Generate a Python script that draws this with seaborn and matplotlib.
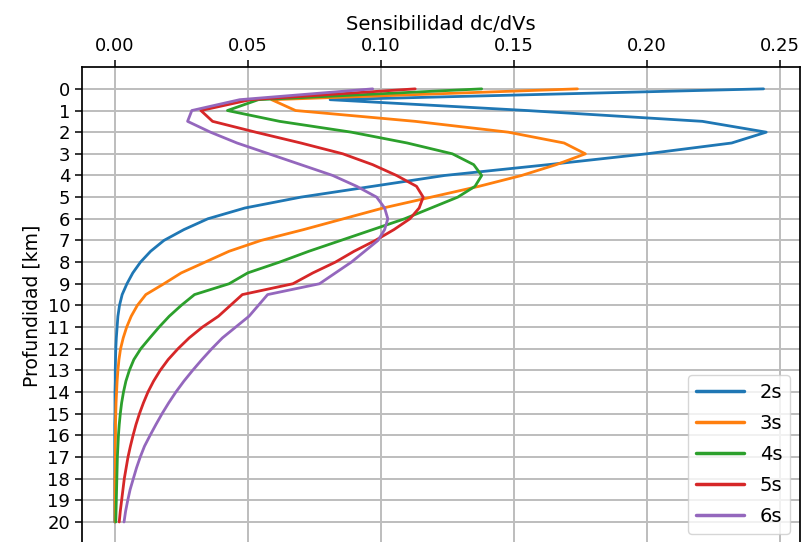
import numpy as np
import pandas as pd
import seaborn as sns
import matplotlib
matplotlib.use("Agg")
import matplotlib.pyplot as plt

# profundidad [km], cada 0.5 km
depth = np.arange(0, 20.5, 0.5)

periods = ["2s", "3s", "4s", "5s", "6s"]

k2s = [0.244, 0.081, 0.155, 0.221, 0.245, 0.232, 0.200, 0.163, 0.124, 0.097,
       0.070, 0.049, 0.035, 0.026, 0.0185, 0.0135, 0.0097, 0.0068, 0.0046, 0.0028,
       0.0018, 0.0012, 0.0009, 0.0006, 0.0004, 0.0003, 0.0002, 0.0002, 0.0001, 0.0001,
       0.0001, 0.0, 0.0, 0.0, 0.0, 0.0, 0.0, 0.0, 0.0, 0.0, 0.0]
k3s = [0.174, 0.059, 0.068, 0.113, 0.148, 0.169, 0.177, 0.166, 0.153, 0.137,
       0.119, 0.101, 0.086, 0.071, 0.055, 0.043, 0.034, 0.025, 0.0185, 0.0117,
       0.0085, 0.0062, 0.0045, 0.0032, 0.0022, 0.0016, 0.0012, 0.0009, 0.0007, 0.0005,
       0.0004, 0.0003, 0.0003, 0.0002, 0.0002, 0.0002, 0.0001, 0.0001, 0.0001, 0.0001, 0.0001]
k4s = [0.138, 0.054, 0.0424, 0.062, 0.089, 0.110, 0.127, 0.135, 0.138, 0.1355,
       0.129, 0.119, 0.109, 0.097, 0.085, 0.073, 0.062, 0.050, 0.043, 0.030,
       0.025, 0.0205, 0.0167, 0.0132, 0.0098, 0.0072, 0.0055, 0.0042, 0.0033, 0.0026,
       0.0021, 0.0017, 0.0014, 0.0012, 0.0010, 0.0009, 0.0008, 0.0007, 0.0006, 0.0005, 0.0004]
k5s = [0.113, 0.051, 0.0324, 0.0368, 0.053, 0.070, 0.0858, 0.097, 0.106, 0.1135,
       0.116, 0.1145, 0.111, 0.105, 0.098, 0.090, 0.083, 0.0745, 0.067, 0.048,
       0.0435, 0.039, 0.033, 0.028, 0.0238, 0.0201, 0.0171, 0.0146, 0.0125, 0.0108,
       0.0093, 0.0080, 0.0069, 0.0059, 0.0050, 0.0043, 0.0036, 0.0031, 0.0026, 0.0021, 0.0017]
k6s = [0.097, 0.047, 0.029, 0.0274, 0.036, 0.046, 0.058, 0.070, 0.082, 0.091,
       0.0985, 0.1015, 0.1027, 0.1015, 0.099, 0.094, 0.089, 0.083, 0.077, 0.0575,
       0.054, 0.0505, 0.0455, 0.0405, 0.0365, 0.0328, 0.0293, 0.026, 0.023, 0.0203,
       0.0178, 0.0155, 0.0133, 0.0112, 0.0096, 0.0082, 0.0070, 0.0058, 0.0049, 0.0041, 0.0035]

frames = []
for p, k in zip(periods, [k2s, k3s, k4s, k5s, k6s]):
    frames.append(pd.DataFrame({"depth": depth, "sens": k, "periodo": p}))
df = pd.concat(frames, ignore_index=True)

sns.set_theme(style="ticks", rc={
    "axes.edgecolor": "black", "axes.linewidth": 1.25,
    "xtick.major.size": 5, "ytick.major.size": 5,
    "xtick.major.width": 1.1, "ytick.major.width": 1.1,
    "xtick.color": "black", "ytick.color": "black",
    "text.color": "black", "axes.labelcolor": "black",
    "grid.color": "#bdbdbd", "grid.linewidth": 1.4,
})
plt.rcParams["font.family"] = ["DejaVu Sans"]

fig = plt.figure(figsize=(8.04, 5.42), dpi=100)
ax = fig.add_axes([0.102, -0.003, 0.893, 0.879])

sns.lineplot(data=df, x="sens", y="depth", hue="periodo", orient="y",
             estimator=None, palette="tab10", linewidth=2.0, ax=ax)

ax.set_ylim(21, -1)
ax.set_xlim(-0.0123, 0.2577)
ax.set_yticks(range(0, 21))
ax.set_xticks([0.0, 0.05, 0.10, 0.15, 0.20, 0.25])
ax.set_xticklabels(["0.00", "0.05", "0.10", "0.15", "0.20", "0.25"])
ax.grid(True)
ax.xaxis.tick_top()
ax.xaxis.set_label_position("top")
ax.tick_params(labelsize=13)
ax.set_xlabel("Sensibilidad dc/dVs", fontsize=14, labelpad=5)
ax.set_ylabel("Profundidad [km]", fontsize=13.5)

leg = ax.legend(loc="lower right", fontsize=14, handlelength=2.5,
                labelspacing=0.62, title=None)
leg.get_frame().set_edgecolor("#cccccc")
for line in leg.get_lines():
    line.set_linewidth(2.5)

fig.savefig("out.png", dpi=100)
